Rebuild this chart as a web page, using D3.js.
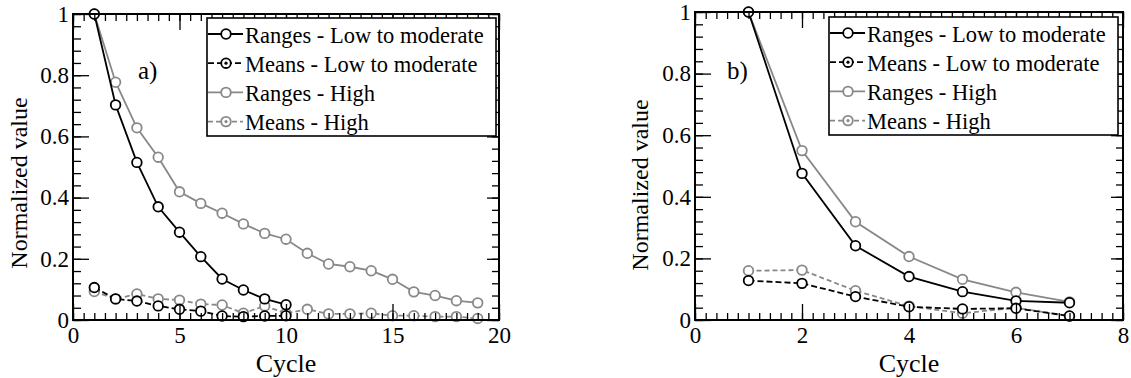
<!DOCTYPE html>
<html>
<head>
<meta charset="utf-8">
<script src="https://cdn.jsdelivr.net/npm/d3@7"></script>
<style>
  html, body { margin: 0; padding: 0; background: #fff; }
  svg { display: block; }
  svg text { font-family: "Liberation Serif", "Times New Roman", Times, serif !important; fill: #000; }
</style>
</head>
<body>
<svg id="chart" width="1131" height="378"></svg>
<script>
// ---------- Data ----------
const seriesNames = ["Ranges - Low to moderate", "Means - Low to moderate", "Ranges - High", "Means - High"];

// Panel a)
const cyclesA_low = [1, 2, 3, 4, 5, 6, 7, 8, 9, 10];
const rangesA_low = [1.0, 0.703, 0.515, 0.370, 0.287, 0.207, 0.134, 0.098, 0.069, 0.050];
const meansA_low  = [0.106, 0.069, 0.062, 0.046, 0.035, 0.029, 0.013, 0.011, 0.013, 0.014];
const cyclesA_high = [1, 2, 3, 4, 5, 6, 7, 8, 9, 10, 11, 12, 13, 14, 15, 16, 17, 18, 19];
const rangesA_high = [1.0, 0.777, 0.628, 0.532, 0.419, 0.381, 0.349, 0.314, 0.283, 0.264, 0.218, 0.183, 0.174, 0.161, 0.133, 0.092, 0.080, 0.063, 0.056];
const meansA_high  = [0.093, 0.069, 0.085, 0.069, 0.065, 0.052, 0.049, 0.022, 0.046, 0.022, 0.035, 0.020, 0.020, 0.022, 0.014, 0.014, 0.011, 0.011, 0.005];

// Panel b)
const cyclesB = [1, 2, 3, 4, 5, 6, 7];
const rangesB_low  = [1.0, 0.476, 0.241, 0.141, 0.092, 0.062, 0.056];
const meansB_low   = [0.128, 0.119, 0.076, 0.043, 0.036, 0.038, 0.013];
const rangesB_high = [1.0, 0.550, 0.319, 0.206, 0.132, 0.090, 0.059];
const meansB_high  = [0.160, 0.162, 0.095, 0.045, 0.022, 0.040, 0.012];

// Axis tick labels
const yTicks = [0, 0.2, 0.4, 0.6, 0.8, 1];
const xTicksA = [0, 5, 10, 15, 20];
const xTicksB = [0, 2, 4, 6, 8];

// ---------- Drawing ----------
const svg = d3.select("#chart");
const BLACK = "#000", GREY = "#888";
const SERIF = '"Liberation Serif", "Times New Roman", Times, serif';

function panel(cfg) {
  const x = d3.scaleLinear().domain(cfg.xDomain).range([cfg.x0, cfg.x1]);
  const y = d3.scaleLinear().domain([0, 1]).range([cfg.y1, cfg.y0]);
  const g = svg.append("g");

  const series = [
    { xs: cfg.hx, ys: cfg.rh, color: GREY, dash: null },
    { xs: cfg.hx, ys: cfg.mh, color: GREY, dash: "5,3" },
    { xs: cfg.lx, ys: cfg.rl, color: BLACK, dash: null },
    { xs: cfg.lx, ys: cfg.ml, color: BLACK, dash: "6,3" }
  ];
  const line = d3.line().x(d => x(d[0])).y(d => y(d[1]));
  series.forEach(s => {
    const pts = s.xs.map((c, i) => [c, s.ys[i]]);
    g.append("path").datum(pts).attr("d", line)
      .attr("fill", "none").attr("stroke", s.color).attr("stroke-width", 1.8)
      .attr("stroke-dasharray", s.dash);
    g.selectAll(null).data(pts).enter().append("circle")
      .attr("cx", d => x(d[0])).attr("cy", d => y(d[1])).attr("r", 4.8)
      .attr("fill", "#fff").attr("stroke", s.color).attr("stroke-width", 1.8);
  });

  // Axes (drawn over data)
  const xMinor = d3.range(cfg.xDomain[0], cfg.xDomain[1] + 1e-9, cfg.xMinorStep);
  const yMinor = d3.range(0, 1 + 1e-9, 0.04);
  const axStyle = sel => {
    sel.attr("font-family", SERIF);
    sel.select(".domain").remove();
    sel.selectAll("line").attr("stroke", "#000").attr("stroke-width", 1.3);
    sel.selectAll("text").style("font-size", "23px").attr("fill", "#000");
  };
  // bottom
  g.append("g").attr("transform", `translate(0,${cfg.y1})`)
    .call(d3.axisBottom(x).tickValues(xMinor).tickSize(-7).tickFormat("")).call(axStyle);
  g.append("g").attr("transform", `translate(0,${cfg.y1})`)
    .call(d3.axisBottom(x).tickValues(cfg.xTicks).tickSize(-16).tickPadding(7).tickFormat(d3.format("d"))).call(axStyle);
  // top
  g.append("g").attr("transform", `translate(0,${cfg.y0})`)
    .call(d3.axisTop(x).tickValues(xMinor).tickSize(-7).tickFormat("")).call(axStyle);
  g.append("g").attr("transform", `translate(0,${cfg.y0})`)
    .call(d3.axisTop(x).tickValues(cfg.xTicks).tickSize(-16).tickFormat("")).call(axStyle);
  // left
  g.append("g").attr("transform", `translate(${cfg.x0},0)`)
    .call(d3.axisLeft(y).tickValues(yMinor).tickSize(-8).tickFormat("")).call(axStyle);
  g.append("g").attr("transform", `translate(${cfg.x0},0)`)
    .call(d3.axisLeft(y).tickValues(yTicks).tickSize(-16).tickPadding(4).tickFormat(d3.format("~g"))).call(axStyle);
  // right
  g.append("g").attr("transform", `translate(${cfg.x1},0)`)
    .call(d3.axisRight(y).tickValues(yMinor).tickSize(-7).tickFormat("")).call(axStyle);
  g.append("g").attr("transform", `translate(${cfg.x1},0)`)
    .call(d3.axisRight(y).tickValues(yTicks).tickSize(-12).tickFormat("")).call(axStyle);

  // frame
  g.append("rect").attr("x", cfg.x0).attr("y", cfg.y0)
    .attr("width", cfg.x1 - cfg.x0).attr("height", cfg.y1 - cfg.y0)
    .attr("fill", "none").attr("stroke", "#000").attr("stroke-width", 2);

  // axis titles
  g.append("text").attr("x", (cfg.x0 + cfg.x1) / 2).attr("y", 372)
    .attr("text-anchor", "middle").style("font-size", "26px").text("Cycle");
  g.append("text").attr("transform", `translate(${cfg.ylabX},${cfg.ylabY}) rotate(-90)`)
    .attr("text-anchor", "middle").style("font-size", "24px").text("Normalized value");

  // panel tag
  g.append("text").attr("x", cfg.tagX).attr("y", 79).style("font-size", "25px").text(cfg.tag);

  // legend
  const lg = g.append("g").attr("transform", `translate(${cfg.x0 + 134},${cfg.legY})`);
  lg.append("rect").attr("x", 0).attr("y", 0).attr("width", 289).attr("height", 118)
    .attr("fill", "#fff").attr("stroke", "#000").attr("stroke-width", 1.6);
  const legStyles = [
    { color: BLACK, dash: null, mean: false },
    { color: BLACK, dash: "6,3", mean: true },
    { color: GREY, dash: null, mean: false },
    { color: GREY, dash: "5,3", mean: true }
  ];
  seriesNames.forEach((name, i) => {
    const sy = 16 + i * 29.2;
    const st = legStyles[i];
    lg.append("line").attr("x1", 1).attr("x2", 36).attr("y1", sy).attr("y2", sy)
      .attr("stroke", st.color).attr("stroke-width", 1.8).attr("stroke-dasharray", st.dash);
    lg.append("circle").attr("cx", 19).attr("cy", sy).attr("r", 4.8)
      .attr("fill", "#fff").attr("stroke", st.color).attr("stroke-width", 1.8);
    if (st.mean) {
      lg.append("circle").attr("cx", 19).attr("cy", sy).attr("r", 1.6).attr("fill", st.color);
    }
    lg.append("text").attr("x", 38).attr("y", sy + 8.5)
      .style("font-size", "22.5px").text(name);
  });
}

panel({
  x0: 73, x1: 499, y0: 14, y1: 320, xDomain: [0, 20], xMinorStep: 0.5, xTicks: xTicksA,
  lx: cyclesA_low, rl: rangesA_low, ml: meansA_low,
  hx: cyclesA_high, rh: rangesA_high, mh: meansA_high,
  ylabX: 27, ylabY: 183, tag: "a)", tagX: 138, legY: 18
});
panel({
  x0: 695, x1: 1123, y0: 12, y1: 320, xDomain: [0, 8], xMinorStep: 0.2, xTicks: xTicksB,
  lx: cyclesB, rl: rangesB_low, ml: meansB_low,
  hx: cyclesB, rh: rangesB_high, mh: meansB_high,
  ylabX: 648, ylabY: 185, tag: "b)", tagX: 727, legY: 17
});
</script>
</body>
</html>
